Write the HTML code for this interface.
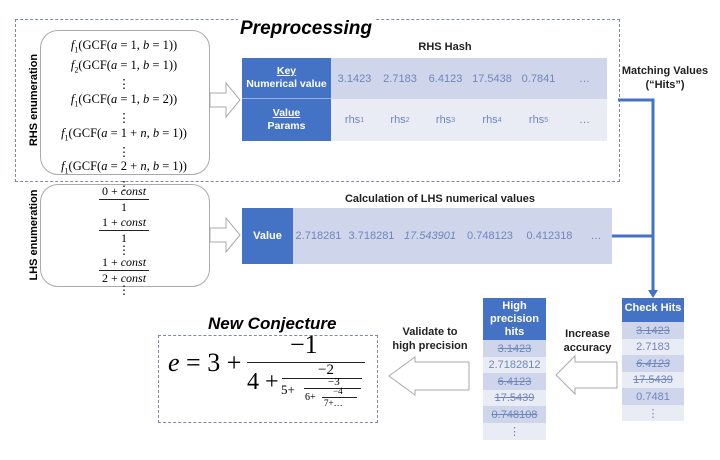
<!DOCTYPE html>
<html><head><meta charset="utf-8"><style>
body{margin:0;width:720px;height:460px;background:#fff;position:relative;overflow:hidden;font-family:"Liberation Sans",sans-serif}
.a{position:absolute}
.s{font-family:"Liberation Serif",serif;white-space:nowrap}
.blue{background:#4472c4;color:#fff;font-weight:bold;text-align:center;font-size:11px}
.c{position:absolute;color:#6f86bd;font-size:11px;text-align:center;display:flex;align-items:center;justify-content:center}
.d{background:#cfd5ea}.l{background:#e9ebf5}
.st{text-decoration:line-through}
.lab{position:absolute;font-size:11px;font-weight:bold;text-align:center;color:#222;line-height:14px}
.bar{position:absolute;height:1px;background:#222}
</style></head><body>
<!-- preprocessing box -->
<div class="a" style="left:15px;top:19px;width:603px;height:161px;border:1px dashed #7f8ca0"></div>
<div class="a" style="left:238px;top:18px;font-size:19px;font-weight:bold;font-style:italic;background:#fff;padding:0 2px">Preprocessing</div>
<div class="a" style="left:22px;top:100px;transform:translate(-50%,-50%) rotate(-90deg);font-size:11px;font-weight:bold;white-space:nowrap;margin-left:12px">RHS enumeration</div>
<div class="a" style="left:40px;top:30px;width:168px;height:143px;border:1px solid #aaa;border-radius:18px"></div>
<div class="a s" style="left:40px;top:38px;width:168px;text-align:center;font-size:12.5px;line-height:14.2px;font-style:normal">
<i>f</i><sub style="font-size:8px">1</sub>(GCF(<i>a</i> = 1, <i>b</i> = 1))<br><i>f</i><sub style="font-size:8px">2</sub>(GCF(<i>a</i> = 1, <i>b</i> = 1))<br>⋮<br><i>f</i><sub style="font-size:8px">1</sub>(GCF(<i>a</i> = 1, <i>b</i> = 2))<br>⋮<br><i>f</i><sub style="font-size:8px">1</sub>(GCF(<i>a</i> = 1 + <i>n</i>, <i>b</i> = 1))<br>⋮<br><i>f</i><sub style="font-size:8px">1</sub>(GCF(<i>a</i> = 2 + <i>n</i>, <i>b</i> = 1))<br>⋮</div>
<svg class="a" style="left:208px;top:80px" width="34" height="40"><path d="M2 13H18V3L32 20L18 37V27H2Z" fill="#fff" stroke="#aaa"/></svg>
<div class="lab" style="left:400px;top:40px;width:90px">RHS Hash</div>
<div class="a blue" style="left:242px;top:58px;width:89px;height:41px;border-bottom:1px solid #9bb0dd;font-size:10.5px;line-height:13px;padding-top:7px;box-sizing:border-box"><u>Key</u><br>Numerical value</div>
<div class="a blue" style="left:242px;top:99px;width:89px;height:42px;font-size:10.5px;line-height:13px;padding-top:8px;box-sizing:border-box"><u>Value</u><br>Params</div>
<div class="c d" style="left:331px;top:58px;width:47px;height:41px">3.1423</div>
<div class="c d" style="left:378px;top:58px;width:44px;height:41px">2.7183</div>
<div class="c d" style="left:422px;top:58px;width:47px;height:41px">6.4123</div>
<div class="c d" style="left:469px;top:58px;width:46px;height:41px">17.5438</div>
<div class="c d" style="left:515px;top:58px;width:47px;height:41px">0.7841</div>
<div class="c d" style="left:562px;top:58px;width:45px;height:41px">…</div>
<div class="c l" style="left:331px;top:99px;width:47px;height:42px">rhs<sub style="font-size:7px">1</sub></div>
<div class="c l" style="left:378px;top:99px;width:44px;height:42px">rhs<sub style="font-size:7px">2</sub></div>
<div class="c l" style="left:422px;top:99px;width:47px;height:42px">rhs<sub style="font-size:7px">3</sub></div>
<div class="c l" style="left:469px;top:99px;width:46px;height:42px">rhs<sub style="font-size:7px">4</sub></div>
<div class="c l" style="left:515px;top:99px;width:47px;height:42px">rhs<sub style="font-size:7px">5</sub></div>
<div class="c l" style="left:562px;top:99px;width:45px;height:42px">…</div>
<div class="lab" style="left:620px;top:64px;width:90px">Matching Values<br>(“Hits”)</div>
<!-- LHS -->
<div class="a" style="left:22px;top:235px;transform:translate(-50%,-50%) rotate(-90deg);font-size:11px;font-weight:bold;white-space:nowrap;margin-left:12px">LHS enumeration</div>
<div class="a" style="left:40px;top:184px;width:168px;height:101px;border:1px solid #aaa;border-radius:18px"></div>
<div class="a s" style="left:40px;top:184px;width:168px;text-align:center;font-size:12px;line-height:15px">
<div>0 + <i>const</i></div><div style="border-top:1px solid #222;width:50px;margin:0 auto">1</div>
<div>1 + <i>const</i></div><div style="border-top:1px solid #222;width:50px;margin:0 auto;line-height:14px">1</div><div style="line-height:10px">⋮</div>
<div>1 + <i>const</i></div><div style="border-top:1px solid #222;width:50px;margin:0 auto">2 + <i>const</i></div><div style="line-height:9px">⋮</div></div>
<svg class="a" style="left:208px;top:215px" width="34" height="40"><path d="M2 13H18V3L32 20L18 37V27H2Z" fill="#fff" stroke="#aaa"/></svg>
<div class="lab" style="left:330px;top:192px;width:220px">Calculation of LHS numerical values</div>
<div class="a blue" style="left:242px;top:208px;width:51px;height:56px;line-height:56px">Value</div>
<div class="c d" style="left:293px;top:208px;width:51px;height:56px">2.718281</div>
<div class="c d" style="left:344px;top:208px;width:55px;height:56px">3.718281</div>
<div class="c d" style="left:399px;top:208px;width:62px;height:56px;font-style:italic">17.543901</div>
<div class="c d" style="left:461px;top:208px;width:58px;height:56px">0.748123</div>
<div class="c d" style="left:519px;top:208px;width:61px;height:56px">0.412318</div>
<div class="c d" style="left:580px;top:208px;width:32px;height:56px">…</div>
<!-- connectors -->
<svg class="a" style="left:0;top:0" width="720" height="460">
<path d="M618 100H653V294M612 236H653" stroke="#4472c4" stroke-width="3" fill="none"/>
<path d="M648 290L653 298L658 290Z" fill="#4472c4"/>
<path d="M617 362H575V356L556 375L575 394V388H617Z" fill="#fff" stroke="#aaa"/>
<path d="M469 362H415V357L389 376L415 395V390H469Z" fill="#fff" stroke="#aaa"/>
</svg>
<!-- check hits -->
<div class="a blue" style="left:622px;top:298px;width:62px;height:24px;line-height:20px">Check Hits</div>
<div class="c d st" style="left:622px;top:322px;width:62px;height:17px">3.1423</div>
<div class="c l" style="left:622px;top:339px;width:62px;height:16px">2.7183</div>
<div class="c d st" style="left:622px;top:355px;width:62px;height:17px;font-style:italic">6.4123</div>
<div class="c l st" style="left:622px;top:372px;width:62px;height:16px">17.5439</div>
<div class="c d" style="left:622px;top:388px;width:62px;height:17px">0.7481</div>
<div class="c l" style="left:622px;top:405px;width:62px;height:16px">⋮</div>
<div class="lab" style="left:555px;top:327px;width:65px">Increase<br>accuracy</div>
<!-- high precision -->
<div class="a blue" style="left:483px;top:298px;width:63px;height:42px;line-height:13px;padding-top:2px;box-sizing:border-box">High<br>precision<br>hits</div>
<div class="c d st" style="left:483px;top:340px;width:63px;height:17px">3.1423</div>
<div class="c l" style="left:483px;top:357px;width:63px;height:16px">2.7182812</div>
<div class="c d st" style="left:483px;top:373px;width:63px;height:17px">6.4123</div>
<div class="c l st" style="left:483px;top:390px;width:63px;height:16px">17.5439</div>
<div class="c d st" style="left:483px;top:406px;width:63px;height:17px">0.748108</div>
<div class="c l" style="left:483px;top:423px;width:63px;height:17px">⋮</div>
<div class="lab" style="left:385px;top:325px;width:90px">Validate to<br>high precision</div>
<!-- conjecture -->
<div class="a" style="left:208px;top:314px;font-size:17px;font-weight:bold;font-style:italic">New Conjecture</div>
<div class="a" style="left:158px;top:335px;width:218px;height:86px;border:1px dashed #7f8ca0"></div>
<div class="a s" style="left:168px;top:348px;font-size:26px"><i>e</i> = 3 +</div>
<div class="a s" style="left:290px;top:330px;font-size:26px">−1</div>
<div class="bar" style="left:247px;top:362px;width:118px"></div>
<div class="a s" style="left:247px;top:369px;font-size:24px">4 +</div>
<div class="a s" style="left:318px;top:362px;font-size:15px">−2</div>
<div class="bar" style="left:282px;top:378px;width:80px"></div>
<div class="a s" style="left:281px;top:382px;font-size:13px">5+</div>
<div class="a s" style="left:328px;top:376px;font-size:11px">−3</div>
<div class="bar" style="left:304px;top:388px;width:57px"></div>
<div class="a s" style="left:305px;top:392px;font-size:10px">6+</div>
<div class="a s" style="left:333px;top:386px;font-size:9px">−4</div>
<div class="bar" style="left:322px;top:397px;width:35px"></div>
<div class="a s" style="left:324px;top:398px;font-size:9px">7+…</div>
</body></html>
